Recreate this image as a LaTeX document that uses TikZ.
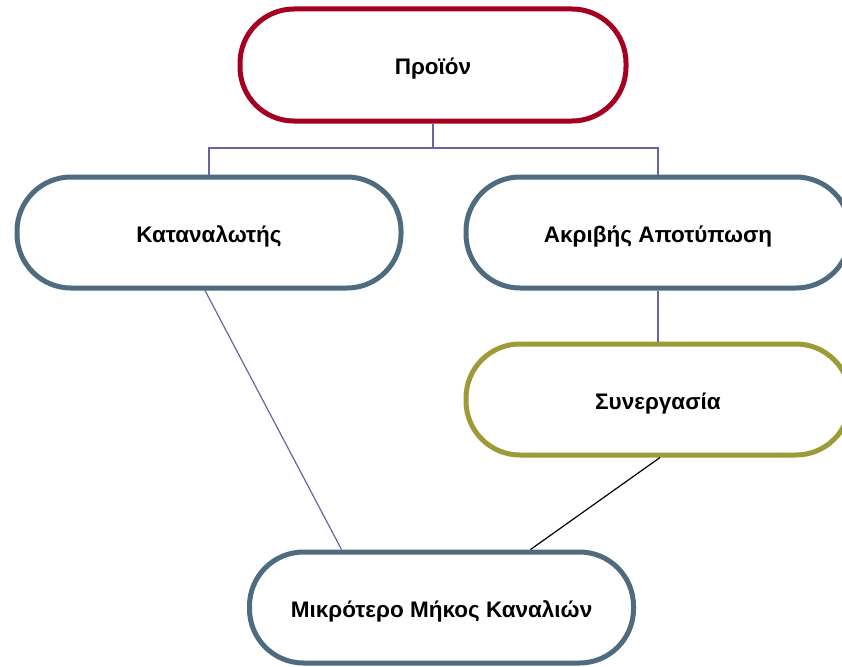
\documentclass[tikz,border=0pt]{standalone}
\usepackage{fontspec}
\setmainfont{Liberation Sans}
\definecolor{prodred}{HTML}{A50021}
\definecolor{slate}{HTML}{4E6B80}
\definecolor{olive}{HTML}{9C9B38}
\definecolor{linkpurple}{HTML}{6A64A0}
\begin{document}
\begin{tikzpicture}[x=1pt,y=-1pt,
  pill/.style={draw=slate,line width=5pt,fill=white,rounded corners=54pt,
    minimum width=384pt,minimum height=111pt,text height=25pt,text depth=5pt,
    font=\bfseries\fontsize{22.5}{26}\selectfont},
  link/.style={draw=linkpurple,line width=1.2pt}]
\useasboundingbox (0,0) rectangle (842,666);
\clip (0,0) rectangle (842,666);
% boxes
\node[pill,draw=prodred,minimum width=386pt,minimum height=112pt] (prod) at (433,65) {Προϊόν};
\node[pill] (cons) at (209,232.5) {Καταναλωτής};
\node[pill] (exact) at (658,232.5) {Ακριβής Αποτύπωση};
\node[pill,draw=olive] (coop) at (658,399.5) {Συνεργασία};
\node[pill] (chain) at (441.5,607.5) {Μικρότερο Μήκος Καναλιών};
% links
\coordinate (fork) at (433,148);
\draw[link] (prod.south) -- (fork);
\draw[link] (cons.north) |- (fork) -| (exact.north);
\draw[link] (exact.south) -- (coop.north);
\draw[link] ([xshift=-4pt]cons.south) -- ([xshift=-100pt]chain.north);
\draw[line width=1.2pt] ([xshift=2pt]coop.south) -- ([xshift=89pt]chain.north);
\end{tikzpicture}
\end{document}
